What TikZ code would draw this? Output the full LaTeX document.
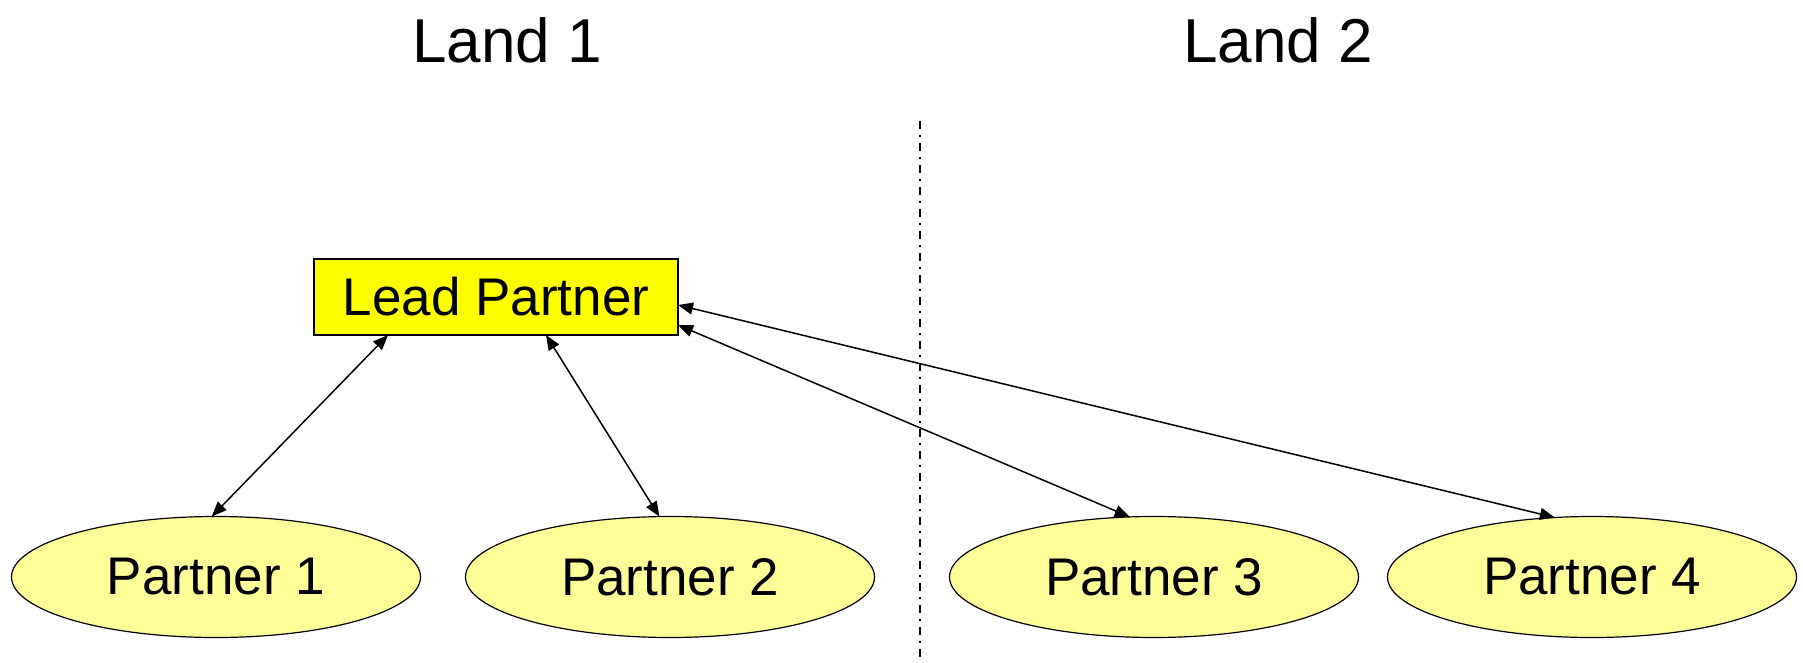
\documentclass[tikz,border=0pt]{standalone}
\usepackage{fontspec}
\setmainfont{Liberation Sans}
\usetikzlibrary{shapes.geometric,arrows.meta}
\definecolor{leadyellow}{HTML}{FFFF00}
\definecolor{partneryellow}{HTML}{FFFF99}
\begin{document}
\begin{tikzpicture}[x=0.5pt,y=-0.5pt,
  partner/.style={ellipse,draw=black,line width=0.6pt,fill=partneryellow,inner sep=0pt,outer sep=0pt,
    minimum width=204.5pt,minimum height=60.5pt,font=\fontsize{26.5}{30}\selectfont},
  leadbox/.style={rectangle,draw=black,line width=0.6pt,fill=leadyellow,inner sep=0pt,outer sep=0pt,
    minimum width=182pt,minimum height=38pt,font=\fontsize{26.5}{30}\selectfont},
  landtitle/.style={font=\fontsize{31}{36}\selectfont,inner sep=0pt},
  link/.style={line width=0.75pt,{Triangle[length=7.5pt,width=6pt]}-{Triangle[length=7.5pt,width=6pt]}},
  divider/.style={line width=0.9pt,dash pattern=on 4pt off 3pt on 1pt off 3pt}
]
\useasboundingbox (0,0) rectangle (1803,663);
\node[landtitle] (land1) at (507,40) {Land 1};
\node[landtitle] (land2) at (1278,40) {Land 2};
\coordinate (divtop) at (920,121);
\coordinate (divbot) at (920,658);
\draw[divider] (divtop) -- (divbot);
\node[leadbox] (lead) at (496,297) {Lead Partner};
\node[partner] (p1) at (216,577) {Partner 1};
\node[partner] (p2) at (670,577) {Partner 2};
\node[partner] (p3) at (1154,577) {Partner 3};
\node[partner] (p4) at (1592,577) {Partner 4};
\draw[link] ([xshift=-54pt]lead.south) -- (p1.94);
\draw[link] ([xshift=25pt]lead.south) -- (p2.100);
\draw[link] ([yshift=-14pt]lead.east) -- (p3.112);
\draw[link] ([yshift=-4pt]lead.east) -- (p4.122);
\end{tikzpicture}
\end{document}
